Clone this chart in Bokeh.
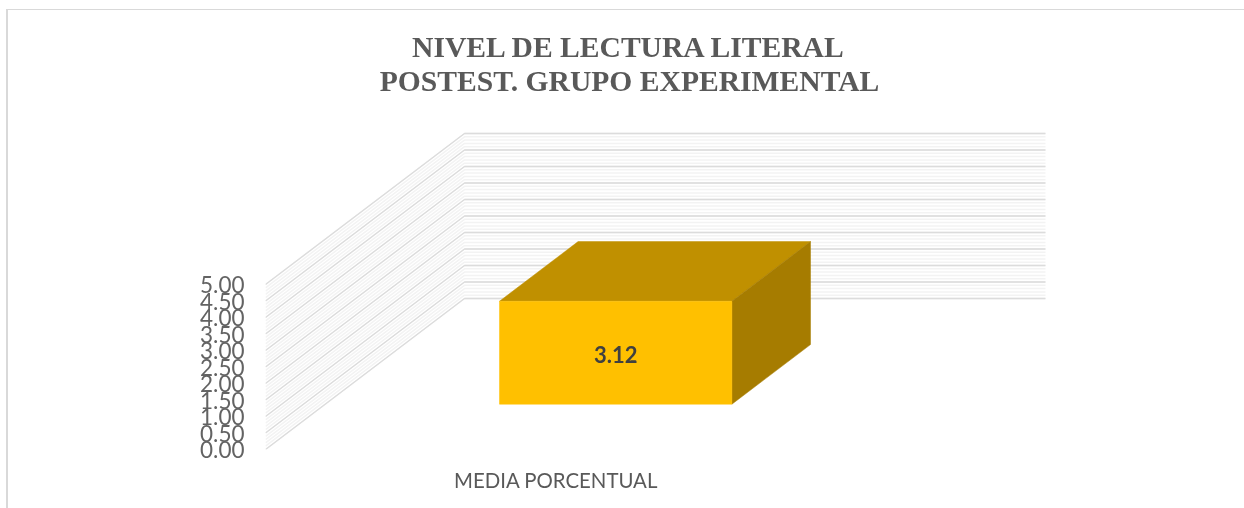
from bokeh.plotting import figure
from bokeh.models import Range1d, FixedTicker, NumeralTickFormatter
from bokeh.core.properties import value
from bokeh.embed import file_html
from bokeh.resources import INLINE
import numpy as np

title_lines = ["NIVEL DE LECTURA LITERAL", "POSTEST. GRUPO EXPERIMENTAL"]
categories = ["MEDIA PORCENTUAL"]
bar_values = [3.12]
bar_labels = ["3.12"]
y_ticks = [0.0, 0.5, 1.0, 1.5, 2.0, 2.5, 3.0, 3.5, 4.0, 4.5, 5.0]
minor_step = 0.1

# oblique 3D projection (pixels per unit of the chart's box)
PX_W, PX_V, PX_DX, PX_DY = 581.0, 33.0, 199.0, 151.0
W, H = 1244, 508
LEFT, BOTTOM = 265, 59


def proj(c, d, v):
    """category position c (0-1), depth d (0-1), value v -> plot coords"""
    return c + d * PX_DX / PX_W, v + d * PX_DY / PX_V


x_end = (W - LEFT) / PX_W
y_end = (H - BOTTOM) / PX_V

p = figure(width=W, height=H, output_backend="svg", toolbar_location=None,
           x_range=Range1d(0, x_end), y_range=Range1d(0, y_end),
           min_border_left=LEFT, min_border_right=0, min_border_top=0,
           min_border_bottom=BOTTOM, outline_line_color=None,
           background_fill_color=None, border_fill_color=None)
p.styles = {
    "position": "fixed", "left": "0px", "top": "0px",
    "background": "linear-gradient(#d9d9d9,#d9d9d9) 6px 9px/2px 100% no-repeat,"
                  "linear-gradient(#d9d9d9,#d9d9d9) 6px 9px/100% 1px no-repeat",
}
p.grid.visible = False

# axes
ya = p.yaxis[0]
ya.ticker = FixedTicker(ticks=y_ticks)
ya.formatter = NumeralTickFormatter(format="0.00")
ya.axis_line_color = None
ya.major_tick_line_color = None
ya.minor_tick_line_color = None
ya.major_tick_out = 0
ya.major_label_standoff = 21
ya.major_label_text_font = "Lato"
ya.major_label_text_font_size = "22.5px"
ya.major_label_text_color = "#636363"

xa = p.xaxis[0]
xa.ticker = FixedTicker(ticks=[0.5])
xa.major_label_overrides = {0.5: categories[0]}
xa.axis_line_color = None
xa.major_tick_line_color = None
xa.minor_tick_line_color = None
xa.major_tick_out = 0
xa.major_label_standoff = 18
xa.major_label_text_font = "Lato"
xa.major_label_text_font_size = "20.4px"
xa.major_label_text_color = "#595959"


def wall(v):
    x0, y0 = proj(0, 0, v)
    x1, y1 = proj(0, 1, v)
    x2, y2 = proj(1, 1, v)
    return [x0, x1, x2], [y0, y1, y2]


# wall grid lines
minor = np.arange(0, y_ticks[-1] + 1e-9, minor_step)
mx, my = zip(*[wall(v) for v in minor])
p.multi_line(list(mx), list(my), line_color="#f3f3f3", line_width=1.5)
Mx, My = zip(*[wall(v) for v in y_ticks])
p.multi_line(list(Mx), list(My), line_color="#dcdcdc", line_width=1.3)

# 3D bar
c0, c1, d0, d1 = 0.3, 0.7, 0.3, 0.695
v = bar_values[0]


def face(pts):
    xy = [proj(*q) for q in pts]
    return [a for a, _ in xy], [b for _, b in xy]


front = face([(c0, d0, 0), (c1, d0, 0), (c1, d0, v), (c0, d0, v)])
top = face([(c0, d0, v), (c1, d0, v), (c1, d1, v), (c0, d1, v)])
side = face([(c1, d0, 0), (c1, d1, 0), (c1, d1, v), (c1, d0, v)])
p.patch(*top, fill_color="#c09000", line_color="#c09000", line_width=0.5)
p.patch(*side, fill_color="#a67c00", line_color="#a67c00", line_width=0.5)
p.patch(*front, fill_color="#ffc000", line_color="#ffc000", line_width=0.5)

lx, ly = proj((c0 + c1) / 2, d0, v / 2)
p.text([lx], [ly], text=bar_labels, text_font=value("Lato"), text_font_style="bold",
       text_font_size="22px", text_color="#404040", text_align="center", text_baseline="middle",
       y_offset=2)

# title
tx = (629 - LEFT) / PX_W
ty1 = (449 - 46) / PX_V
ty2 = (449 - 80) / PX_V
p.text([tx, tx], [ty1, ty2], text=title_lines, text_font=value("Liberation Serif"),
       text_font_style="bold", text_font_size="29.6px", text_color="#595959",
       text_align="center", text_baseline="middle")

open("out.html", "w").write(file_html(p, INLINE))
